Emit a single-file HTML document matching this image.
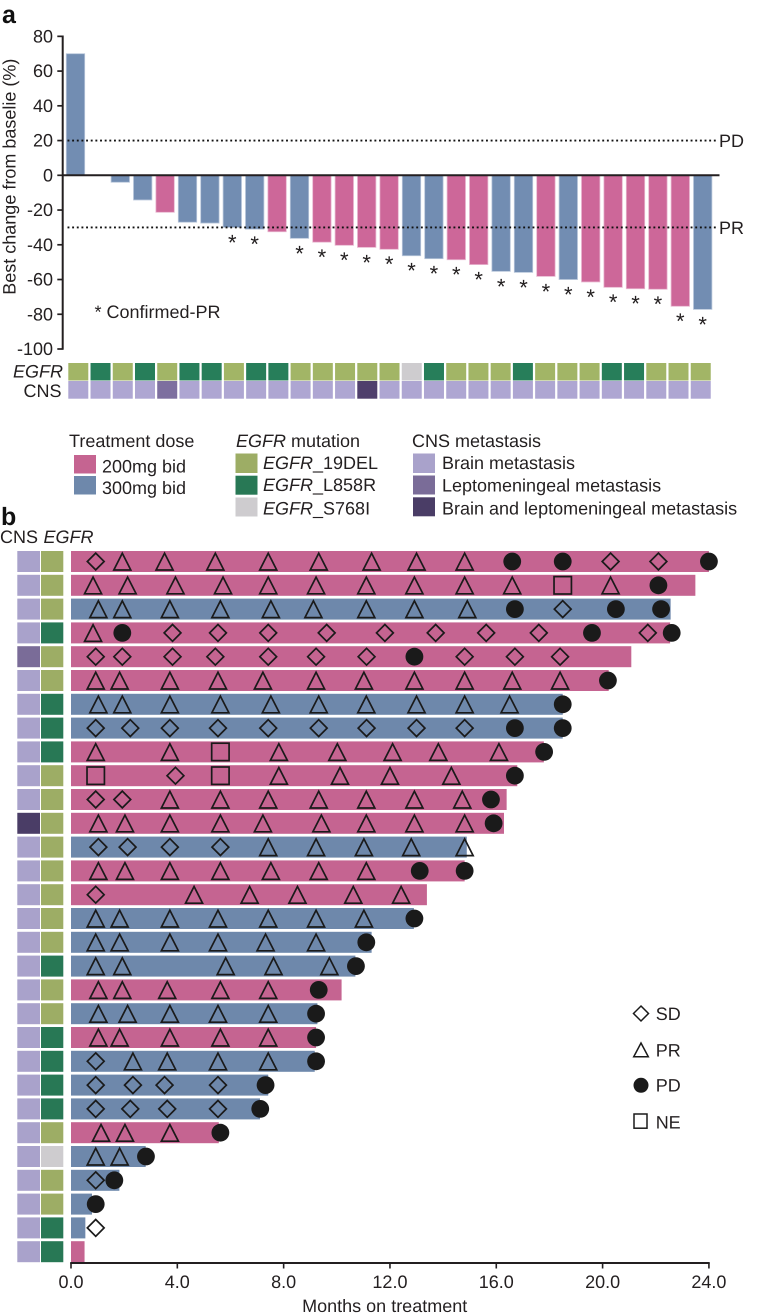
<!DOCTYPE html>
<html lang="en">
<head>
<meta charset="utf-8">
<title>Waterfall and swimmer plots</title>
<style>
html,body{margin:0;padding:0;background:#fff;}
svg{display:block;}
text{font-family:"Liberation Sans",sans-serif;font-size:18px;fill:#231f20;text-rendering:geometricPrecision;}
</style>
</head>
<body>
<svg id="chart" xmlns="http://www.w3.org/2000/svg" width="761" height="1314" viewBox="0 0 761 1314">
  <g id="panelA">
    <text x="2" y="23" style="font-size:25px;font-weight:bold;fill:#111">a</text>
    <text transform="translate(15.5,176.7) rotate(-90)" text-anchor="middle" style="font-size:18px">Best change from baselie (%)</text>
    <text x="94.5" y="318">* Confirmed-PR</text>
    <text x="719" y="147">PD</text>
    <text x="719" y="234">PR</text>
    <text x="63" y="377.7" text-anchor="end" font-style="italic">EGFR</text>
    <text x="61.5" y="397" text-anchor="end">CNS</text>
  </g>
  <g>
    <g>
      <text x="69" y="447">Treatment dose</text>
      <rect x="74" y="455" width="22" height="18.5" fill="#c56491"/>
      <text x="102" y="472.3">200mg bid</text>
      <rect x="74" y="476" width="22" height="18.5" fill="#6e88ab"/>
      <text x="102" y="494">300mg bid</text>
    </g>
    <g>
      <text x="236" y="447"><tspan font-style="italic">EGFR</tspan> mutation</text>
      <rect x="235.5" y="453.5" width="22" height="19.5" fill="#9dad65"/>
      <text x="263" y="469"><tspan font-style="italic">EGFR</tspan>_19DEL</text>
      <rect x="235.5" y="475.7" width="22" height="19" fill="#287855"/>
      <text x="263" y="491"><tspan font-style="italic">EGFR</tspan>_L858R</text>
      <rect x="235.5" y="497.5" width="22" height="19" fill="#cecccf"/>
      <text x="263" y="514.3"><tspan font-style="italic">EGFR</tspan>_S768I</text>
    </g>
    <g>
      <text x="412" y="447">CNS metastasis</text>
      <rect x="413" y="453.5" width="22" height="19.5" fill="#a9a2cb"/>
      <text x="442" y="469">Brain metastasis</text>
      <rect x="413" y="475.5" width="22" height="19" fill="#7a6c98"/>
      <text x="442" y="491.7">Leptomeningeal metastasis</text>
      <rect x="413" y="497.3" width="22" height="19" fill="#4a3d66"/>
      <text x="442" y="514.3">Brain and leptomeningeal metastasis</text>
    </g>
  </g>
  <g id="panelB">
    <text x="1" y="525" style="font-size:25px;font-weight:bold;fill:#111">b</text>
    <text x="0" y="543">CNS</text>
    <text x="43.5" y="543" font-style="italic">EGFR</text>
    <text x="384.7" y="1312" text-anchor="middle" style="font-size:18px">Months on treatment</text>
  </g>
  <g fill="none" stroke="#1a1a1a" stroke-width="1.5">
    <polygon points="641,1006 648.5,1013.5 641,1021 633.5,1013.5"/>
    <text x="655.7" y="1020" stroke="none">SD</text>
    <polygon points="641,1043 648.3,1056.8 633.7,1056.8"/>
    <text x="655.7" y="1056.7" stroke="none">PR</text>
    <circle cx="641" cy="1085.3" r="7.5" fill="#1a1a1a" stroke="none"/>
    <text x="655.7" y="1091.7" stroke="none">PD</text>
    <rect x="634" y="1114" width="13" height="14.2"/>
    <text x="655.7" y="1128.3" stroke="none">NE</text>
  </g>
</svg>
<script>
/* Panel a data */
const waterfallValues = [70, 0, -4, -14.2, -21.3, -27, -27.5, -30, -31, -32.5, -36.3, -38.5, -40.3, -41.5, -42.6, -46.3, -48, -48.6, -51.4, -55.3, -55.9, -58.2, -60, -61.4, -64.5, -65.3, -65.6, -75.4, -77.2];
const waterfallDose = [300, 300, 300, 300, 200, 300, 300, 300, 300, 200, 300, 200, 200, 200, 200, 300, 300, 200, 200, 300, 300, 200, 300, 200, 200, 200, 200, 200, 300];
const waterfallConfirmed = [0, 0, 0, 0, 0, 0, 0, 1, 1, 0, 1, 1, 1, 1, 1, 1, 1, 1, 1, 1, 1, 1, 1, 1, 1, 1, 1, 1, 1];
const waterfallEgfr = ['19DEL', 'L858R', '19DEL', 'L858R', '19DEL', 'L858R', 'L858R', '19DEL', 'L858R', 'L858R', '19DEL', '19DEL', '19DEL', '19DEL', '19DEL', 'S768I', 'L858R', '19DEL', '19DEL', '19DEL', 'L858R', '19DEL', '19DEL', '19DEL', 'L858R', 'L858R', '19DEL', '19DEL', '19DEL'];
const waterfallCns = ['B', 'B', 'B', 'B', 'L', 'B', 'B', 'B', 'B', 'B', 'B', 'B', 'B', 'X', 'B', 'B', 'B', 'B', 'B', 'B', 'B', 'B', 'B', 'B', 'B', 'B', 'B', 'B', 'B'];
const waterfallTicks = [80, 60, 40, 20, 0, -20, -40, -60, -80, -100];
const waterfallThresholds = [20, -30];

/* Panel b data */
const swimmerMonths = [24, 23.49, 22.56, 22.54, 21.08, 20.23, 18.5, 18.5, 17.79, 16.79, 16.39, 16.29, 14.89, 14.81, 13.39, 12.9, 11.31, 10.7, 10.18, 9.27, 9.22, 9.17, 7.42, 7.11, 5.56, 2.81, 1.82, 0.79, 0.54, 0.51];
const swimmerDose = [200, 200, 300, 200, 200, 200, 300, 300, 200, 200, 200, 200, 300, 200, 200, 300, 300, 300, 200, 300, 200, 300, 300, 300, 200, 300, 300, 300, 300, 200];
const swimmerEgfr = ['19DEL', '19DEL', '19DEL', 'L858R', '19DEL', '19DEL', 'L858R', 'L858R', 'L858R', '19DEL', '19DEL', '19DEL', '19DEL', '19DEL', '19DEL', '19DEL', '19DEL', 'L858R', '19DEL', '19DEL', 'L858R', 'L858R', 'L858R', 'L858R', '19DEL', 'S768I', '19DEL', '19DEL', 'L858R', 'L858R'];
const swimmerCns = ['B', 'B', 'B', 'B', 'L', 'B', 'B', 'B', 'B', 'B', 'B', 'X', 'B', 'B', 'B', 'B', 'B', 'B', 'B', 'B', 'B', 'B', 'B', 'B', 'B', 'B', 'B', 'B', 'B', 'B'];
const swimmerTicks = [0, 4, 8, 12, 16, 20, 24];
const swimmerEvents = [
  [['SD',0.93],['PR',1.93],['PR',3.52],['PR',5.43],['PR',7.42],['PR',9.32],['PR',11.31],['PR',13.0],['PR',14.81],['PD',16.6],['PD',18.5],['SD',20.3],['SD',22.1],['PD',24.0]],
  [['PR',0.83],['PR',2.13],['PR',3.93],['PR',5.72],['PR',7.42],['PR',9.22],['PR',11.11],['PR',12.92],['PR',14.81],['PR',16.6],['NE',18.5],['PR',20.3],['PD',22.1]],
  [['PR',1.03],['PR',1.93],['PR',3.72],['PR',5.62],['PR',7.52],['PR',9.12],['PR',11.11],['PR',12.92],['PR',14.91],['PD',16.7],['SD',18.5],['PD',20.5],['PD',22.2]],
  [['PR',0.83],['PD',1.93],['SD',3.82],['SD',5.53],['SD',7.42],['SD',9.62],['SD',11.81],['SD',13.72],['SD',15.62],['SD',17.6],['PD',19.6],['SD',21.7],['PD',22.6]],
  [['SD',0.93],['SD',1.93],['SD',3.82],['SD',5.43],['SD',7.42],['SD',9.22],['SD',11.12],['PD',12.92],['SD',14.81],['SD',16.7],['SD',18.4]],
  [['PR',0.93],['PR',1.83],['PR',3.72],['PR',5.53],['PR',7.22],['PR',9.22],['PR',11.02],['PR',12.92],['PR',14.81],['PR',16.6],['PR',18.4],['PD',20.2]],
  [['PR',1.03],['PR',1.93],['PR',3.72],['PR',5.62],['PR',7.52],['PR',9.32],['PR',11.11],['PR',13.0],['PR',14.81],['PR',16.5],['PD',18.5]],
  [['SD',0.93],['SD',2.23],['SD',3.72],['SD',5.53],['SD',7.42],['SD',9.32],['SD',11.12],['SD',13.0],['SD',14.81],['PD',16.7],['PD',18.5]],
  [['PR',0.93],['PR',3.72],['NE',5.62],['PR',7.82],['PR',10.02],['PR',12.1],['PR',13.82],['PR',16.1],['PD',17.8]],
  [['NE',0.93],['SD',3.93],['NE',5.62],['PR',7.82],['PR',10.12],['PR',12.0],['PR',14.31],['PD',16.7]],
  [['SD',0.93],['SD',1.93],['PR',3.72],['PR',5.62],['PR',7.42],['PR',9.32],['PR',11.11],['PR',12.92],['PR',14.72],['PD',15.8]],
  [['PR',1.03],['PR',2.03],['PR',3.72],['PR',5.62],['PR',7.22],['PR',9.42],['PR',11.11],['PR',12.92],['PR',14.81],['PD',15.9]],
  [['SD',1.03],['SD',2.13],['SD',3.72],['SD',5.62],['PR',7.42],['PR',9.22],['PR',11.02],['PR',12.8],['PR',14.81]],
  [['PR',1.03],['PR',2.03],['PR',3.72],['PR',5.62],['PR',7.52],['PR',9.32],['PR',11.11],['PD',13.12],['PD',14.81]],
  [['SD',0.93],['PR',4.63],['PR',6.72],['PR',8.52],['PR',10.62],['PR',12.42]],
  [['PR',0.93],['PR',1.83],['PR',3.72],['PR',5.53],['PR',7.42],['PR',9.22],['PR',11.02],['PD',12.92]],
  [['PR',0.93],['PR',1.83],['PR',3.72],['PR',5.53],['PR',7.32],['PR',9.22],['PD',11.11]],
  [['PR',0.93],['PR',1.93],['PR',5.82],['PR',7.62],['PR',9.72],['PD',10.72]],
  [['PR',1.03],['PR',1.93],['PR',3.62],['PR',5.62],['PR',7.42],['PD',9.32]],
  [['PR',1.03],['PR',2.13],['PR',3.72],['PR',5.53],['PR',7.42],['PD',9.22]],
  [['PR',1.03],['PR',1.83],['PR',3.72],['PR',5.62],['PR',7.42],['PD',9.22]],
  [['SD',0.93],['PR',2.33],['PR',3.62],['PR',5.53],['PR',7.42],['PD',9.22]],
  [['SD',0.93],['SD',2.33],['SD',3.52],['SD',5.53],['PD',7.32]],
  [['SD',0.93],['SD',2.23],['SD',3.62],['SD',5.53],['PD',7.12]],
  [['PR',1.13],['PR',2.03],['PR',3.72],['PD',5.62]],
  [['PR',0.93],['PR',1.83],['PD',2.82]],
  [['SD',0.93],['PD',1.63]],
  [['PD',0.93]],
  [['SD',0.93]],
  []
];

const SVG_NS = 'http://www.w3.org/2000/svg';
const INK = '#1a1a1a';
const doseFillA = {200: '#cd6799', 300: '#728db2'};
const doseEdgeA = {200: '#e8b6cf', 300: '#b8c6da'};
const doseFillB = {200: '#c56491', 300: '#6e88ab'};
const egfrFillA = {'19DEL': '#a2b566', 'L858R': '#277e5a', 'S768I': '#cecccf'};
const cnsFillA = {B: '#aea6d2', L: '#7d6f9f', X: '#4f3f6c'};
const egfrFillB = {'19DEL': '#9dad65', 'L858R': '#287855', 'S768I': '#cecccf'};
const cnsFillB = {B: '#a9a2cb', L: '#7a6c98', X: '#4a3d66'};

function make(tag, attrs, parent) {
  const el = document.createElementNS(SVG_NS, tag);
  for (const k in attrs) el.setAttribute(k, attrs[k]);
  parent.appendChild(el);
  return el;
}

/* Axis functions */
const yA = v => 175.3 - v * 1.737;
const colX = i => 75.5 + i * 22.4;
const squareX = i => 68.3 + i * 22.23;
const xB = m => 71 + m * 26.58;
const rowTop = i => 551 + i * 23.8;

const panelA = document.getElementById('panelA');
const panelB = document.getElementById('panelB');

/* Panel a bars */
waterfallValues.forEach((v, i) => {
  if (v === 0) return;
  const top = Math.min(yA(v), yA(0));
  const bar = make('rect', {x: colX(i) - 9.2, y: top, width: 18.4, height: Math.abs(yA(v) - yA(0)), fill: doseFillA[waterfallDose[i]], stroke: doseEdgeA[waterfallDose[i]], 'stroke-width': 0.8}, panelA);
  
  
  if (waterfallConfirmed[i]) {
    const star = make('text', {x: colX(i), y: yA(v) + 22.4, 'text-anchor': 'middle', style: 'font-size:22px'}, panelA);
    star.textContent = '*';
    
    
  }
});

/* Thresholds */
waterfallThresholds.forEach(t => {
  const line = make('line', {x1: 67.5, x2: 717, y1: yA(t), y2: yA(t), stroke: '#111', 'stroke-width': 1.9, 'stroke-dasharray': '1.9 2.75'}, panelA);
  
  
});

/* Panel a axes */
const zeroLine = make('line', {x1: 62, x2: 719.5, y1: yA(0), y2: yA(0), stroke: '#231f20', 'stroke-width': 2}, panelA);


const yAxis = make('line', {x1: 62.7, x2: 62.7, y1: yA(80) - 0.8, y2: yA(-100) + 0.8, stroke: '#231f20', 'stroke-width': 2}, panelA);


waterfallTicks.forEach(t => {
  const mark = make('line', {x1: 57.3, x2: 62.7, y1: yA(t), y2: yA(t), stroke: '#231f20', 'stroke-width': 1.7}, panelA);
  
  
  const label = make('text', {x: 53, y: yA(t) + 6, 'text-anchor': 'end'}, panelA);
  label.textContent = t;
  
  
});

/* Panel a annotation strips */
waterfallEgfr.forEach((g, i) => {
  const cell = make('rect', {x: squareX(i), y: 363, width: 20, height: 17.5, fill: egfrFillA[g]}, panelA);
  
  
});
waterfallCns.forEach((c, i) => {
  const cell = make('rect', {x: squareX(i), y: 381, width: 20, height: 17.7, fill: cnsFillA[c]}, panelA);
  
  
});

/* Panel b rows */
swimmerMonths.forEach((m, i) => {
  const top = rowTop(i);
  const cns = make('rect', {x: 17.3, y: top, width: 22.7, height: 21, fill: cnsFillB[swimmerCns[i]]}, panelB);
  
  
  const egfr = make('rect', {x: 41, y: top, width: 22.3, height: 21, fill: egfrFillB[swimmerEgfr[i]]}, panelB);
  
  
  const bar = make('rect', {x: xB(0), y: top, width: xB(m) - xB(0), height: 21, fill: doseFillB[swimmerDose[i]]}, panelB);
  
  
});

/* Panel b response markers */
function drawMarker(type, x, y) {
  const stroke = {fill: 'none', stroke: INK, 'stroke-width': 1.7, 'stroke-linejoin': 'miter'};
  if (type === 'PD') {
    const c = make('circle', {cx: x, cy: y, r: 8.9, fill: INK}, panelB);
    
    
  } else if (type === 'NE') {
    const s = make('rect', Object.assign({x: x - 8.7, y: y - 8.7, width: 17.4, height: 17.4}, stroke), panelB);
    
    
  } else if (type === 'SD') {
    const d = make('polygon', Object.assign({points: `${x},${y - 8.4} ${x + 8.4},${y} ${x},${y + 8.4} ${x - 8.4},${y}`}, stroke), panelB);
    
    
  } else {
    const t = make('polygon', Object.assign({points: `${x},${y - 8.2} ${x + 8.5},${y + 8.5} ${x - 8.5},${y + 8.5}`}, stroke), panelB);
    
    
  }
}
swimmerEvents.forEach((events, i) => {
  const cy = rowTop(i) + 10.5;
  events.forEach(ev => drawMarker(ev[0], xB(ev[1]), cy));
});

/* Panel b axis */
const xAxis = make('line', {x1: xB(0) - 0.8, x2: xB(24) + 0.8, y1: 1263, y2: 1263, stroke: '#231f20', 'stroke-width': 1.9}, panelB);


swimmerTicks.forEach(t => {
  const mark = make('line', {x1: xB(t), x2: xB(t), y1: 1263, y2: 1268.5, stroke: '#231f20', 'stroke-width': 1.6}, panelB);
  
  
  const label = make('text', {x: xB(t), y: 1288, 'text-anchor': 'middle'}, panelB);
  label.textContent = t.toFixed(1);
  
  
});
</script>
</body>
</html>
